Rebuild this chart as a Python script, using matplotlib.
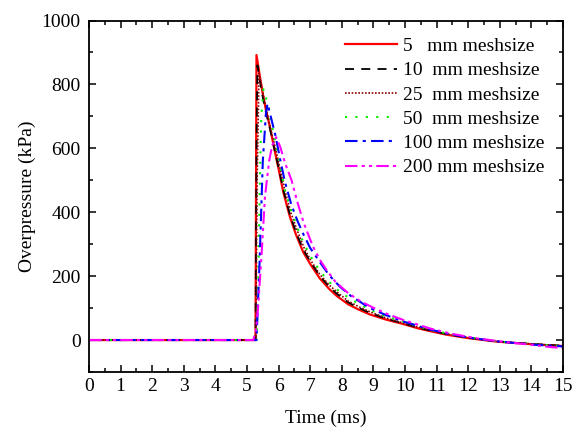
import numpy as np
import matplotlib
matplotlib.use('Agg')
import matplotlib.pyplot as plt
from matplotlib.ticker import MultipleLocator

plt.rcParams['font.family'] = ['Liberation Serif', 'DejaVu Serif']
plt.rcParams['mathtext.fontset'] = 'stix'

# 5 mm meshsize
t_5 = [0, 5.27, 5.30, 5.40, 5.50, 5.60, 5.73, 5.85, 6.00, 6.15, 6.36, 6.55, 6.78, 7.00, 7.31, 7.60,
       7.84, 8.20, 8.50, 8.89, 9.40, 9.95, 10.40, 10.79, 11.30, 12.00, 12.90, 14.00, 15.00]
p_5 = [0, 0, 892, 830, 770, 720, 665, 605, 535, 462, 385, 330, 275, 238, 192, 160,
       138, 112, 97, 80, 64, 50, 37, 28, 17, 6, -5, -13, -19]
# 10 mm meshsize
t_10 = [0, 5.27, 5.30, 5.33, 5.40, 5.50, 5.60, 5.73, 5.85, 6.00, 6.15, 6.36, 6.55, 6.78, 7.00, 7.31,
        7.60, 7.84, 8.20, 8.50, 8.89, 9.40, 9.95, 10.40, 10.79, 11.30, 12.00, 12.90, 14.00, 15.00]
p_10 = [0, 0, 600, 860, 815, 760, 712, 660, 605, 540, 470, 392, 338, 283, 246, 200,
        167, 145, 118, 102, 85, 67, 52, 39, 30, 19, 7, -4, -12, -18]
# 25 mm meshsize
t_25 = [0, 5.28, 5.32, 5.38, 5.45, 5.55, 5.65, 5.75, 5.90, 6.05, 6.20, 6.40, 6.60, 6.80, 7.00, 7.30,
        7.60, 7.90, 8.20, 8.60, 8.90, 9.40, 9.95, 10.80, 11.50, 12.30, 13.00, 14.00, 15.00]
p_25 = [0, 0, 500, 835, 800, 750, 705, 660, 600, 535, 468, 395, 340, 290, 252, 206,
        172, 146, 122, 101, 88, 69, 53, 31, 16, 3, -5, -12, -18]
# 50 mm meshsize
t_50 = [0, 5.30, 5.35, 5.40, 5.45, 5.52, 5.60, 5.75, 5.90, 6.05, 6.20, 6.40, 6.60, 6.80, 7.00, 7.30,
        7.60, 7.90, 8.30, 8.90, 9.40, 10.00, 10.80, 11.50, 12.30, 13.00, 14.00, 15.00]
p_50 = [0, 0, 150, 450, 700, 785, 760, 690, 620, 545, 470, 405, 350, 302, 264, 217,
        182, 154, 127, 94, 75, 56, 32, 17, 4, -5, -13, -19]
# 100 mm meshsize
t_100 = [0, 5.30, 5.40, 5.50, 5.60, 5.65, 5.75, 5.90, 6.05, 6.20, 6.40, 6.60, 6.78, 7.00, 7.31, 7.60,
         7.94, 8.30, 8.89, 9.40, 9.95, 10.79, 11.30, 12.00, 12.90, 14.00, 15.00]
p_100 = [0, 0, 250, 560, 710, 740, 700, 640, 565, 495, 425, 372, 332, 288, 243, 203,
         167, 137, 100, 78, 58, 33, 21, 8, -4, -14, -20]
# 200 mm meshsize
t_200 = [0, 5.20, 5.28, 5.35, 5.45, 5.57, 5.70, 5.80, 5.92, 6.05, 6.20, 6.41, 6.60, 6.80, 7.09, 7.30,
         7.52, 7.80, 8.20, 8.60, 9.00, 9.50, 10.00, 10.80, 11.50, 12.30, 13.00, 14.00, 14.60, 15.00]
p_200 = [0, 0, 30, 100, 250, 450, 560, 610, 635, 605, 555, 500, 430, 365, 292, 252,
         219, 182, 147, 121, 101, 79, 61, 36, 19, 5, -4, -15, -22, -25]

labels = ['5   mm meshsize', '10  mm meshsize', '25  mm meshsize',
          '50  mm meshsize', '100 mm meshsize', '200 mm meshsize']

fig = plt.figure(figsize=(5.79, 4.32), dpi=100)
ax = fig.add_axes([0.1537, 0.1389, 0.8187, 0.8136])

ax.plot(t_5, p_5, color='red', lw=1.6, label=labels[0])
ax.plot(t_10, p_10, color='black', lw=1.3, ls=(0, (5, 4)), label=labels[1])
ax.plot(t_25, p_25, color='#8b0000', lw=1.2, ls=(0, (1, 1)), label=labels[2])
ax.plot(t_50, p_50, color='#00ee00', lw=1.5, ls=(0, (1, 4)), label=labels[3])
ax.plot(t_100, p_100, color='blue', lw=1.5, ls=(0, (6, 2.5, 1.5, 2.5)), label=labels[4])
ax.plot(t_200, p_200, color='magenta', lw=1.5, ls=(0, (6, 2, 1.5, 2, 1.5, 2)), label=labels[5])

ax.set_xlim(0, 15)
ax.set_ylim(-100, 1000)
ax.xaxis.set_major_locator(MultipleLocator(1))
ax.xaxis.set_minor_locator(MultipleLocator(0.5))
ax.yaxis.set_major_locator(MultipleLocator(200))
ax.yaxis.set_minor_locator(MultipleLocator(100))
ax.tick_params(which='both', direction='in', top=True, right=True, labelsize=14, width=1.1)
ax.tick_params(which='major', length=5)
ax.tick_params(axis='x', which='major', pad=4)
ax.tick_params(axis='y', which='major', pad=6)
ax.tick_params(which='minor', length=3)
for s in ax.spines.values():
    s.set_linewidth(1.3)

ax.set_xlabel('Time (ms)', fontsize=14, labelpad=11)
ax.set_ylabel('Overpressure (kPa)', fontsize=14, labelpad=4)

ax.legend(loc='upper right', frameon=False, fontsize=14, handlelength=2.7,
          labelspacing=0.34, handletextpad=0.3, borderaxespad=0.3,
          bbox_to_anchor=(0.99, 0.99))

fig.savefig('out.png', dpi=100)
